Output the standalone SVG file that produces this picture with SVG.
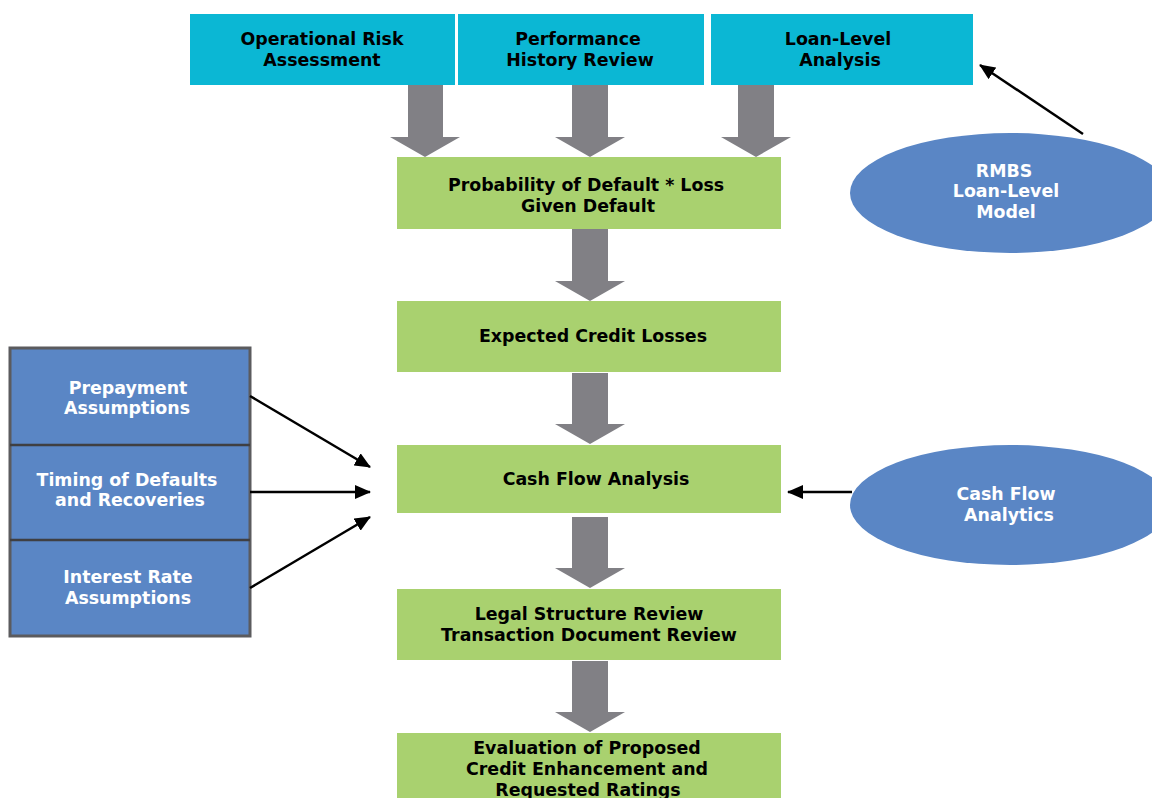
<svg xmlns="http://www.w3.org/2000/svg" width="1152" height="798" viewBox="0 0 1152 798">
<defs>
<style>
.cyan{fill:#0BB7D4}
.green{fill:#A9D16F}
.blue{fill:#5A86C5}
.ga{fill:#818085}
text{font-family:"DejaVu Sans",Verdana,sans-serif;font-weight:bold;font-size:17.4px;text-anchor:middle}
.dk{fill:#000}
.wt{fill:#fff}
.conn{stroke:#000;stroke-width:2.5;fill:none;marker-end:url(#ah)}
</style>
<marker id="ah" markerWidth="16" markerHeight="14" refX="15" refY="7" orient="auto" markerUnits="userSpaceOnUse" viewBox="0 0 16 14">
<path d="M0,0 L16,7 L0,14 z" fill="#000"/>
</marker>
</defs>
<rect width="1152" height="798" fill="#fff"/>

<g id="node-operational">
<rect class="cyan" x="190" y="14" width="265" height="71"/>
<text class="dk" x="322" y="45">Operational Risk</text>
<text class="dk" x="322" y="66">Assessment</text>
</g>
<g id="node-performance">
<rect class="cyan" x="458" y="14" width="246" height="71"/>
<text class="dk" x="578" y="45">Performance</text>
<text class="dk" x="580" y="66">History Review</text>
</g>
<g id="node-loanlevel">
<rect class="cyan" x="711" y="14" width="262" height="71"/>
<text class="dk" x="838" y="45">Loan-Level</text>
<text class="dk" x="840" y="66">Analysis</text>
</g>

<g id="node-pd">
<rect class="green" x="397" y="157" width="384" height="72"/>
<text class="dk" x="586" y="191">Probability of Default * Loss</text>
<text class="dk" x="588" y="212">Given Default</text>
</g>
<g id="node-ecl">
<rect class="green" x="397" y="301" width="384" height="71"/>
<text class="dk" x="593" y="342">Expected Credit Losses</text>
</g>
<g id="node-cfa">
<rect class="green" x="397" y="445" width="384" height="68"/>
<text class="dk" x="596" y="485">Cash Flow Analysis</text>
</g>
<g id="node-legal">
<rect class="green" x="397" y="589" width="384" height="71"/>
<text class="dk" x="589" y="620">Legal Structure Review</text>
<text class="dk" x="589" y="641">Transaction Document Review</text>
</g>
<g id="node-eval">
<rect class="green" x="397" y="733" width="384" height="70"/>
<text class="dk" x="587" y="754">Evaluation of Proposed</text>
<text class="dk" x="587" y="775">Credit Enhancement and</text>
<text class="dk" x="588" y="796">Requested Ratings</text>
</g>

<g id="node-assumptions">
<rect class="blue" x="10" y="348" width="240" height="288" stroke="#5b5b5e" stroke-width="3"/>
<line x1="10" y1="445" x2="250" y2="445" stroke="#3f3f42" stroke-width="2.5"/>
<line x1="10" y1="540" x2="250" y2="540" stroke="#3f3f42" stroke-width="2.5"/>
<text class="wt" x="128" y="394">Prepayment</text>
<text class="wt" x="127" y="414">Assumptions</text>
<text class="wt" x="127" y="486">Timing of Defaults</text>
<text class="wt" x="130" y="506">and Recoveries</text>
<text class="wt" x="128" y="583">Interest Rate</text>
<text class="wt" x="128" y="604">Assumptions</text>
</g>

<g id="node-rmbs">
<ellipse class="blue" cx="1010" cy="193" rx="160" ry="60"/>
<text class="wt" x="1004" y="177">RMBS</text>
<text class="wt" x="1006" y="197">Loan-Level</text>
<text class="wt" x="1006" y="218">Model</text>
</g>
<g id="node-cfanalytics">
<ellipse class="blue" cx="1010" cy="505" rx="160" ry="60"/>
<text class="wt" x="1006" y="500">Cash Flow</text>
<text class="wt" x="1009" y="521">Analytics</text>
</g>

<g id="connectors">
<path class="ga" d="M408,85 H443 V137 H460 L425,157 L390,137 H408 Z"/>
<path class="ga" d="M572,85 H608 V137 H625 L590,157 L555,137 H572 Z"/>
<path class="ga" d="M738,85 H774 V137 H791 L756,157 L721,137 H738 Z"/>
<path class="ga" d="M572,229 H608 V281 H625 L590,301 L555,281 H572 Z"/>
<path class="ga" d="M572,373 H608 V424 H625 L590,444 L555,424 H572 Z"/>
<path class="ga" d="M572,517 H608 V568 H625 L590,588 L555,568 H572 Z"/>
<path class="ga" d="M572,661 H608 V712 H625 L590,732 L555,712 H572 Z"/>
<line class="conn" x1="250" y1="396" x2="370" y2="467"/>
<line class="conn" x1="250" y1="492" x2="370" y2="492"/>
<line class="conn" x1="250" y1="588" x2="370" y2="517"/>
<line class="conn" x1="1083" y1="134" x2="980" y2="65"/>
<line class="conn" x1="852" y1="492" x2="788" y2="492"/>
</g>
</svg>
